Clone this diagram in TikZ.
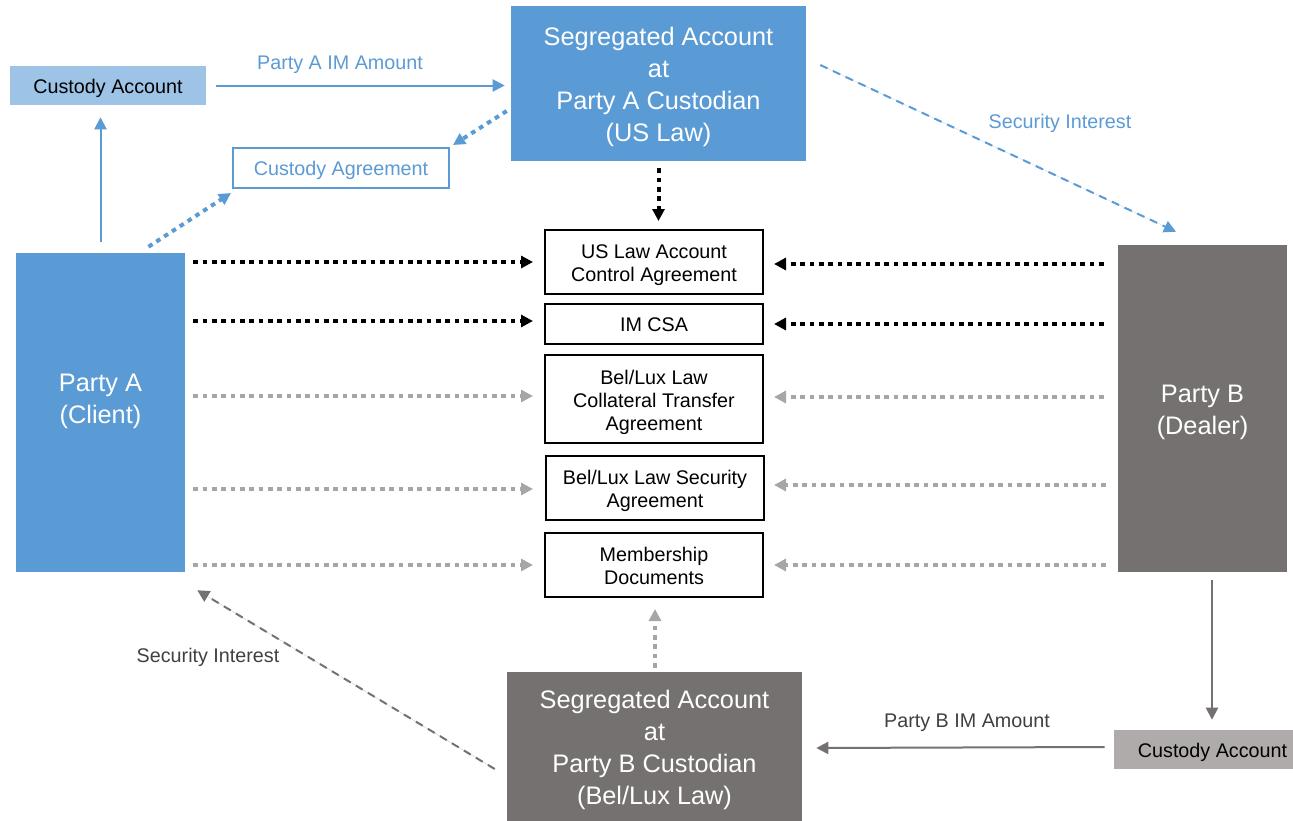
\documentclass[tikz,border=0pt]{standalone}
\usepackage{fontspec}
\setmainfont{Liberation Sans}
\usetikzlibrary{arrows.meta,calc}
\definecolor{cblue}{HTML}{5B9BD5}
\definecolor{clblue}{HTML}{9DC3E6}
\definecolor{cdgrey}{HTML}{767171}
\definecolor{clgrey}{HTML}{AFABAB}
\definecolor{cdot}{HTML}{A6A6A6}
\definecolor{ctext}{HTML}{404040}
\newcommand\myfs[1]{\rule[-0.212em]{0pt}{\dimexpr1.117em+#1\relax}}
\newcommand\myfe{\rule[-0.212em]{0pt}{1.117em}}
\newcommand\bstrut{\myfs{2.5pt}}
\newcommand\mstrut{\myfs{2pt}}
\tikzset{
  smallfont/.style={font=\fontsize{14.8}{17.3}\selectfont, align=center},
  small/.style={smallfont, execute at begin node=\myfs{1.5pt}, execute at end node=\myfe},
  smallmulti/.style={smallfont},
  big/.style={font=\fontsize{19}{24}\selectfont, align=center},
  box/.style={draw=black, line width=1.5pt, fill=white, inner sep=0pt},
  tip/.style={-{Triangle[length=9pt,width=9pt]}},
  dotline/.style={tip, line width=3pt, dash pattern=on 3.5pt off 3.5pt},
  blkdot/.style={dotline, draw=black},
  grydot/.style={dotline, draw=cdot},
  bludot/.style={dotline, draw=cblue},
  solidarrow/.style={tip, line width=1.5pt},
  dasharrow/.style={tip, line width=1.5pt, dash pattern=on 6pt off 4.5pt},
}
\begin{document}
\begin{tikzpicture}[x=0.75pt,y=-0.75pt]
\useasboundingbox (0,0) rectangle (1293,821);
% nodes
\node[fill=clblue, small, minimum width=147pt, minimum height=29.25pt, inner sep=0pt] (custA) at (108,85.5) {Custody Account};
\node[fill=cblue, big, text=white, minimum width=221.25pt, minimum height=116.25pt, inner sep=0pt] (segA) at (658.5,83.5) {\bstrut Segregated Account\\at\\Party A Custodian\\(US Law)\myfe};
\node[draw=cblue, line width=1.5pt, fill=white, small, text=cblue, minimum width=162pt, minimum height=30pt, inner sep=0pt] (custAg) at (341,168) {Custody Agreement};
\node[fill=cblue, minimum width=126.75pt, minimum height=239.25pt, inner sep=0pt] (partyA) at (100.5,412.5) {};
\node[big, text=white] (partyAtxt) at (100.5,397) {\bstrut Party A\\(Client)\myfe};
\node[fill=cdgrey, big, text=white, minimum width=126.75pt, minimum height=245.25pt, inner sep=0pt] (partyB) at (1202.5,408.5) {\bstrut Party B\\(Dealer)\myfe};
\node[box, smallmulti, minimum width=163.5pt, minimum height=48pt] (b1) at (654,262) {\mstrut US Law Account\\Control Agreement\myfe};
\node[box, small, minimum width=163.5pt, minimum height=30pt] (b2) at (654,324) {IM CSA};
\node[box, smallmulti, minimum width=163.5pt, minimum height=66pt] (b3) at (654,399) {\mstrut Bel/Lux Law\\Collateral Transfer\\Agreement\myfe};
\node[box, smallmulti, minimum width=163.5pt, minimum height=48pt] (b4) at (655,488) {\mstrut Bel/Lux Law Security\\Agreement\myfe};
\node[box, smallmulti, minimum width=163.5pt, minimum height=48pt] (b5) at (654,565) {\mstrut Membership\\Documents\myfe};
\node[fill=cdgrey, big, text=white, minimum width=221.25pt, minimum height=111.75pt, inner sep=0pt] (segB) at (654.5,746.5) {\bstrut Segregated Account\\at\\Party B Custodian\\(Bel/Lux Law)\myfe};
\node[fill=clgrey, small, minimum width=134.25pt, minimum height=29.25pt, inner sep=0pt] (custB) at (1203.5,749.5) {\hspace*{13.5pt}Custody Account};
% labels
\node[small, text=cblue] (lblA) at (340,62) {Party A IM Amount};
\node[small, text=cblue] (lblSIA) at (1060,121) {Security Interest};
\node[small, text=ctext] (lblSIB) at (208,655) {Security Interest};
\node[small, text=ctext] (lblB) at (967,720) {Party B IM Amount};
% top connectors
\draw[solidarrow, draw=cblue, fill=cblue] ($(custA.east)+(10,0)$) -- ($(segA.west |- custA.east)+(-6,0)$);
\draw[solidarrow, draw=cblue, fill=cblue] ($(partyA.north |- custA.south)+(0,137)$) -- ($(partyA.north |- custA.south)+(0,12)$);
\draw[bludot] ($(partyA.north)+(48,-6)$) -- ($(custAg.south west)+(-1,4)$);
\draw[bludot] ($(segA.west)+(-4,27.5)$) -- ($(custAg.north east)+(3,-2)$);
\draw[blkdot] ($(segA.south)+(0,7)$) -- ($(segA.south |- b1.north)+(0,-8)$);
\draw[dasharrow, draw=cblue, fill=cblue] ($(segA.east)+(14,-18.5)$) -- ($(partyB.north)+(-26.5,-13)$);
% left horizontal connectors
\draw[blkdot] ($(partyA.east |- b1.west)+(8,0)$) -- ($(b1.west)+(-11,0)$);
\draw[blkdot] ($(partyA.east |- b2.west)+(8,-3)$) -- ($(b2.west)+(-11,-3)$);
\draw[grydot] ($(partyA.east |- b3.west)+(8,-3)$) -- ($(b3.west)+(-11,-3)$);
\draw[grydot] ($(partyA.east |- b4.west)+(8,1)$) -- ($(b4.west)+(-12,1)$);
\draw[grydot] ($(partyA.east |- b5.west)+(8,0)$) -- ($(b5.west)+(-11,0)$);
% right horizontal connectors
\draw[blkdot] ($(partyB.west |- b1.east)+(-14,2)$) -- ($(b1.east)+(10,2)$);
\draw[blkdot] ($(partyB.west |- b2.east)+(-14,0)$) -- ($(b2.east)+(10,0)$);
\draw[grydot] ($(partyB.west |- b3.east)+(-14,-2)$) -- ($(b3.east)+(10,-2)$);
\draw[grydot] ($(partyB.west |- b4.east)+(-12,-3)$) -- ($(b4.east)+(9,-3)$);
\draw[grydot] ($(partyB.west |- b5.east)+(-12,0)$) -- ($(b5.east)+(10,0)$);
% bottom connectors
\draw[grydot] ($(segB.north)+(0.5,-4)$) -- ($(b5.south)+(1,11)$);
\draw[dasharrow, draw=cdgrey, fill=cdgrey] ($(segB.west)+(-12,22.5)$) -- ($(partyA.south east)+(12,18)$);
\draw[solidarrow, draw=cdgrey, fill=cdgrey] ($(partyB.south)+(9.5,8)$) -- ($(custB.north)+(8.5,-10)$);
\draw[solidarrow, draw=cdgrey, fill=cdgrey] ($(custB.west)+(-9,-2.5)$) -- ($(segB.east)+(14,1.5)$);
\end{tikzpicture}
\end{document}
